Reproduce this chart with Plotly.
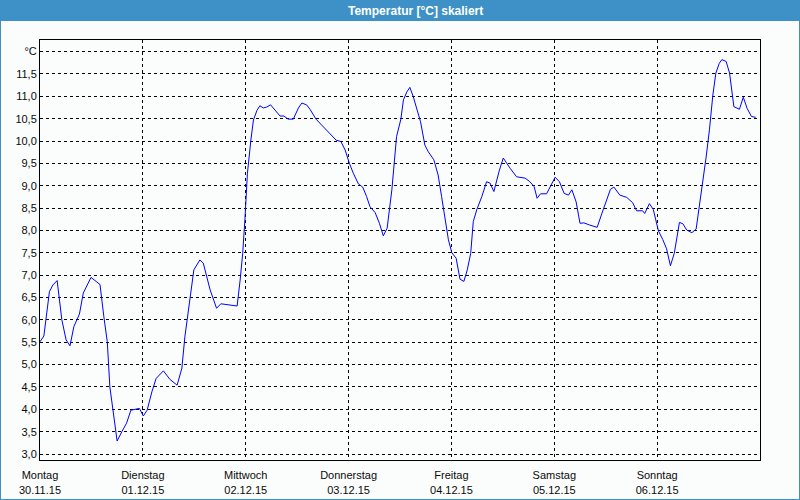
import plotly.graph_objects as go

# Hours since Monday 30.11.15 00:00 and temperature readings (°C)
hours = [0.0, 0.9, 2.2, 3.0, 4.0, 5.1, 6.1, 7.0, 7.9, 9.2, 10.1, 11.9, 13.1, 14.0, 14.9, 15.7,
         16.3, 17.0, 18.0, 19.1, 20.2, 21.2, 23.2, 24.1, 25.0, 26.1, 27.1, 28.8, 30.3, 32.0,
         33.1, 33.8, 35.0, 35.9, 37.3, 38.1, 39.7, 41.2, 42.2, 43.9, 46.0, 46.7, 47.3, 47.8,
         48.4, 49.2, 49.8, 50.6, 51.3, 52.1, 52.9, 53.8, 54.8, 56.0, 56.9, 57.9, 59.1, 60.3,
         61.1, 62.2, 63.0, 64.4, 65.7, 67.7, 69.1, 70.2, 71.2, 72.2, 73.1, 74.3, 75.3, 76.2,
         77.0, 78.2, 79.2, 80.1, 81.0, 82.1, 82.6, 83.2, 84.2, 84.8, 85.6, 86.3, 87.1, 87.9,
         88.8, 89.8, 90.6, 91.9, 92.9, 93.7, 94.5, 95.3, 96.1, 97.1, 98.0, 98.9, 99.7, 100.5,
         101.1, 101.9, 103.1, 104.2, 105.0, 105.9, 107.2, 108.1, 109.7, 111.2, 113.2, 114.3,
         115.3, 116.0, 116.8, 118.2, 120.2, 121.2, 122.3, 123.3, 124.1, 125.1, 126.0, 126.9,
         128.3, 130.0, 131.4, 133.1, 133.9, 135.3, 136.9, 138.3, 139.2, 140.6, 141.1, 142.2,
         143.1, 144.3, 145.3, 146.2, 147.1, 148.0, 149.2, 150.0, 150.9, 152.1, 153.1, 153.8,
         154.6, 155.4, 156.2, 157.0, 157.7, 158.5, 159.1, 160.1, 160.9, 161.9, 163.2, 164.1,
         165.0, 166.0, 167.0]
temps = [5.51, 5.64, 6.63, 6.78, 6.88, 6.00, 5.55, 5.42, 5.85, 6.13, 6.60, 6.95, 6.86, 6.79, 6.07, 5.51,
         4.50, 3.98, 3.29, 3.50, 3.69, 3.98, 4.02, 3.85, 3.98, 4.39, 4.69, 4.86, 4.67, 4.54,
         4.92, 5.62, 6.53, 7.12, 7.34, 7.27, 6.67, 6.26, 6.36, 6.34, 6.31, 6.89, 7.49, 8.23,
         9.28, 10.02, 10.47, 10.68, 10.79, 10.74, 10.76, 10.81, 10.70, 10.56, 10.56, 10.49, 10.49, 10.74,
         10.85, 10.81, 10.71, 10.49, 10.36, 10.17, 10.02, 9.99, 9.80, 9.50, 9.28, 9.04, 8.97, 8.76,
         8.53, 8.40, 8.16, 7.88, 8.05, 8.91, 9.50, 10.10, 10.49, 10.92, 11.10, 11.20, 10.99, 10.73,
         10.43, 9.91, 9.76, 9.58, 9.24, 8.76, 8.23, 7.79, 7.50, 7.38, 6.91, 6.86, 7.12, 7.49,
         8.20, 8.46, 8.76, 9.09, 9.06, 8.87, 9.35, 9.62, 9.39, 9.20, 9.17, 9.09,
         8.98, 8.72, 8.82, 8.82, 9.19, 9.09, 8.83, 8.79, 8.91, 8.64, 8.16, 8.17,
         8.12, 8.07, 8.46, 8.92, 8.97, 8.79, 8.74, 8.62, 8.44, 8.44, 8.38, 8.60,
         8.47, 7.99, 7.80, 7.59, 7.21, 7.49, 8.18, 8.15, 8.01, 7.95, 8.03, 8.50,
         9.06, 9.62, 10.25, 11.03, 11.52, 11.74, 11.82, 11.78, 11.52, 10.77, 10.71, 10.98,
         10.73, 10.55, 10.53]

day_names = ["Montag", "Dienstag", "Mittwoch", "Donnerstag", "Freitag", "Samstag", "Sonntag"]
day_dates = ["30.11.15", "01.12.15", "02.12.15", "03.12.15", "04.12.15", "05.12.15", "06.12.15"]
day_hours = [0, 24, 48, 72, 96, 120, 144]

y_ticks = [3.0, 3.5, 4.0, 4.5, 5.0, 5.5, 6.0, 6.5, 7.0, 7.5, 8.0, 8.5, 9.0, 9.5,
           10.0, 10.5, 11.0, 11.5, 12.0]
y_labels = ["3,0", "3,5", "4,0", "4,5", "5,0", "5,5", "6,0", "6,5", "7,0", "7,5", "8,0", "8,5",
            "9,0", "9,5", "10,0", "10,5", "11,0", "11,5", "°C"]

title_text = "Temperatur [°C] skaliert"

BLUE_BAR = "#3d91c6"
BG = "#fbfdfc"
FONT = "Liberation Sans"
TXT = "#0a0a0a"

W, H = 800, 500
ML, MR, MT, MB = 40, 40, 40, 40
PW, PH = W - ML - MR, H - MT - MB

fig = go.Figure()
fig.add_trace(go.Scatter(x=hours, y=temps, mode="lines",
                         line=dict(color="#0000ff", width=1), hoverinfo="skip",
                         showlegend=False))

px2x = lambda p: (p - ML) / PW
px2y = lambda p: 1 - (p - MT) / PH

shapes = [
    # title bar
    dict(type="rect", xref="paper", yref="paper", x0=px2x(0), x1=px2x(W), y0=px2y(21), y1=px2y(0),
         fillcolor=BLUE_BAR, line=dict(width=0), layer="below"),
    # outer frame
    dict(type="rect", xref="paper", yref="paper", x0=px2x(0), x1=px2x(W), y0=px2y(H), y1=px2y(0),
         fillcolor="rgba(0,0,0,0)", line=dict(color=BLUE_BAR, width=2), layer="above"),
]

fig.update_layout(
    width=W, height=H,
    margin=dict(l=ML, r=MR, t=MT, b=MB, pad=0, autoexpand=False),
    paper_bgcolor=BG, plot_bgcolor=BG,
    font=dict(family=FONT, size=11, color=TXT),
    shapes=shapes,
    hovermode=False,
    annotations=[dict(text="<b>" + title_text + "</b>", xref="paper", yref="paper",
                      x=px2x(415), y=px2y(10.5), xanchor="center", yanchor="middle",
                      showarrow=False, font=dict(family=FONT, size=12, color="white"))],
    xaxis=dict(range=[0, 168], tickmode="array", tickvals=day_hours,
               ticktext=[f"{n}<br>{d}" for n, d in zip(day_names, day_dates)],
               showgrid=True, gridcolor="black", gridwidth=1, griddash="dot",
               showline=True, linecolor="black", linewidth=1, mirror=True,
               zeroline=False, ticks="outside", ticklen=5, tickcolor="rgba(0,0,0,0)",
               automargin=False, fixedrange=True,
               tickfont=dict(family=FONT, size=11, color=TXT)),
    yaxis=dict(range=[2.866, 12.26], tickmode="array", tickvals=y_ticks, ticktext=y_labels,
               showgrid=True, gridcolor="black", gridwidth=1, griddash="dot",
               showline=True, linecolor="black", linewidth=1, mirror=True,
               zeroline=False, ticks="", automargin=False, fixedrange=True,
               tickfont=dict(family=FONT, size=11, color=TXT)),
)

fig.write_html("out.html", config={"displayModeBar": False},
               post_script="document.body.style.margin='0';document.body.style.padding='0';")
